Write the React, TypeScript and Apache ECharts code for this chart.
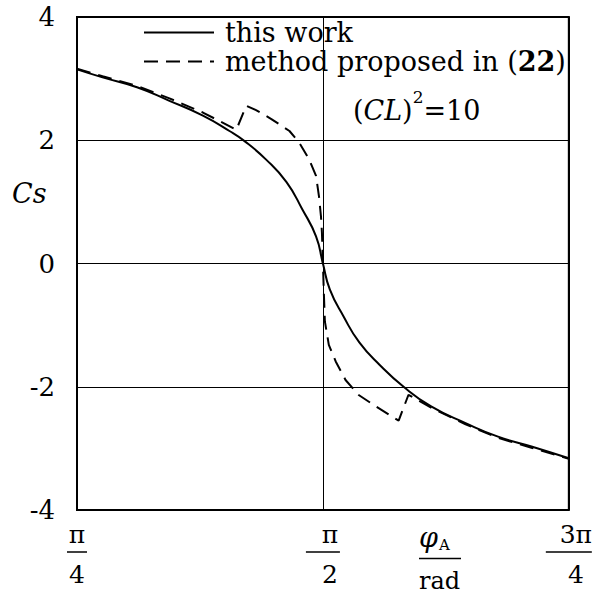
import React, { useEffect, useRef } from "react";
import * as echarts from "echarts";

// x values are φ_A / π  (π/4 .. 3π/4  ->  0.25 .. 0.75)
const phiThisWork = [0.25, 0.276, 0.311, 0.344, 0.378, 0.405, 0.42, 0.442, 0.463, 0.479, 0.493, 0.5, 0.507, 0.521, 0.537, 0.558, 0.582, 0.61, 0.645, 0.678, 0.712, 0.75];
const csThisWork = [3.15, 3.02, 2.86, 2.64, 2.4, 2.15, 1.99, 1.69, 1.32, 0.88, 0.44, 0.0, -0.42, -0.86, -1.28, -1.65, -2.0, -2.32, -2.59, -2.81, -2.97, -3.16];

const phiMethod22 = [0.25, 0.276, 0.311, 0.344, 0.378, 0.412, 0.422, 0.432, 0.448, 0.466, 0.476, 0.486, 0.493, 0.496, 0.498, 0.499, 0.5, 0.501, 0.502, 0.506, 0.513, 0.523, 0.536, 0.554, 0.577, 0.587, 0.61, 0.645, 0.678, 0.712, 0.75];
const csMethod22 = [3.16, 3.04, 2.88, 2.68, 2.45, 2.17, 2.56, 2.49, 2.34, 2.15, 1.96, 1.69, 1.42, 1.09, 0.77, 0.5, 0.0, -0.5, -0.94, -1.32, -1.59, -1.89, -2.13, -2.32, -2.55, -2.13, -2.34, -2.61, -2.83, -2.99, -3.17];

const xTickValues = [0.25, 0.5, 0.75];
const xTickNumerators = ["π", "π", "3π"];
const xTickDenominators = ["4", "2", "4"];
const yTicks = [-4, -2, 0, 2, 4];

const seriesNames = ["this work", "method proposed in (22)"];

const SERIF = "DejaVu Serif";

export default function App() {
  const ref = useRef<HTMLDivElement>(null);
  useEffect(() => {
    document.body.style.margin = "0";
    if (!ref.current) return;
    const chart = echarts.init(ref.current, undefined, { renderer: "svg" });
    const pairs = (xs: number[], ys: number[]) => xs.map((x, i) => [x, ys[i]]);
    const option: any = {
      animation: false,
      backgroundColor: "#fff",
      grid: {
        left: 77,
        right: 24,
        top: 17,
        bottom: 91,
        show: true,
        borderColor: "#000",
        borderWidth: 2,
        backgroundColor: "transparent",
      },
      xAxis: {
        type: "value",
        min: 0.25,
        max: 0.75,
        interval: 0.25,
        axisLine: { show: false },
        axisTick: { show: false },
        splitLine: { show: true, lineStyle: { color: "#000", width: 1 } },
        axisLabel: {
          show: true,
          margin: 11,
          showMinLabel: true,
          showMaxLabel: true,
          hideOverlap: false,
          color: "#000",
          formatter: (v: number) => {
            const i = xTickValues.findIndex((t) => Math.abs(t - v) < 1e-6);
            if (i < 0) return "";
            const suf = i === 0 ? "" : "s";
            const bar = i === 2 ? "barw" : "bar";
            return `{n${suf}|${xTickNumerators[i]}}\n{${bar}${suf}|}\n{d${suf}|${xTickDenominators[i]}}`;
          },
          rich: {
            n: { fontFamily: SERIF, fontSize: 25, lineHeight: 26, color: "#000" },
            d: { fontFamily: SERIF, fontSize: 25, lineHeight: 34, color: "#000" },
            bar: { width: 20, height: 1.5, backgroundColor: "#000", lineHeight: 10 },
            ns: { fontFamily: SERIF, fontSize: 25, lineHeight: 26, color: "#000", padding: [0, 0, 0, 14] },
            ds: { fontFamily: SERIF, fontSize: 25, lineHeight: 34, color: "#000", padding: [0, 0, 0, 14] },
            bars: { width: 20, height: 1.5, backgroundColor: "#000", lineHeight: 10, padding: [0, 0, 0, 14] },
            barws: { width: 32, height: 1.5, backgroundColor: "#000", lineHeight: 10, padding: [0, 0, 0, 14] },
          },
        },
      },
      yAxis: {
        type: "value",
        min: yTicks[0],
        max: yTicks[yTicks.length - 1],
        interval: 2,
        axisLine: { show: false },
        axisTick: { show: false },
        splitLine: { show: true, lineStyle: { color: "#000", width: 1 } },
        axisLabel: {
          margin: 22,
          color: "#000",
          fontFamily: SERIF,
          fontSize: 26,
          showMinLabel: true,
          showMaxLabel: true,
        },
      },
      legend: {
        show: true,
        orient: "vertical",
        left: 143,
        top: 18,
        itemWidth: 70,
        itemHeight: 14,
        itemGap: 0,
        padding: 0,
        data: seriesNames,
        itemStyle: { opacity: 0 },
        lineStyle: { width: 2 },
        formatter: (name: string) =>
          name === seriesNames[1] ? "{t|method proposed in (}{b|22}{t|)}" : `{t|${name}}`,
        textStyle: {
          color: "#000",
          fontFamily: SERIF,
          fontSize: 27,
          lineHeight: 29,
          padding: [0, 0, 0, 6],
          rich: {
            t: { fontFamily: SERIF, fontSize: 27, lineHeight: 29, color: "#000" },
            b: { fontFamily: SERIF, fontSize: 27, lineHeight: 29, fontWeight: "bold", color: "#000" },
          },
        },
      },
      series: [
        {
          name: seriesNames[0],
          type: "line",
          data: pairs(phiThisWork, csThisWork),
          symbol: "none",
          smooth: 0.5,
          lineStyle: { color: "#000", width: 2, type: "solid" },
          itemStyle: { color: "#000" },
        },
        {
          name: seriesNames[1],
          type: "line",
          data: pairs(phiMethod22, csMethod22),
          symbol: "none",
          smooth: false,
          lineStyle: { color: "#000", width: 2, type: [14, 8] },
          itemStyle: { color: "#000" },
        },
      ],
      graphic: [
        {
          type: "text",
          left: 12,
          top: 180,
          style: {
            text: "Cs",
            fontFamily: SERIF,
            fontStyle: "italic",
            fontSize: 27,
            fill: "#000",
          },
        },
        {
          type: "text",
          left: 353,
          top: 88,
          style: {
            text: "{n|(}{i|CL}{n|)}{s|2}{n|=10}",
            rich: {
              n: { fontFamily: SERIF, fontSize: 27, lineHeight: 36, fill: "#000", verticalAlign: "bottom" },
              i: { fontFamily: SERIF, fontSize: 27, fontStyle: "italic", lineHeight: 36, fill: "#000", verticalAlign: "bottom" },
              s: { fontFamily: SERIF, fontSize: 17, lineHeight: 20, fill: "#000", verticalAlign: "top" },
            },
          },
        },
        {
          type: "text",
          left: 419,
          top: 524,
          style: {
            text: "{v|φ}{sub|A}\n{bar|}\n{r|rad}",
            align: "center",
            rich: {
              v: { fontFamily: SERIF, fontSize: 27, fontStyle: "italic", lineHeight: 30, fill: "#000", verticalAlign: "middle" },
              sub: { fontFamily: SERIF, fontSize: 15, lineHeight: 14, fill: "#000", verticalAlign: "bottom", padding: [0, 0, 0, 1] },
              bar: { width: 42, height: 1.5, backgroundColor: "#000", lineHeight: 12 },
              r: { fontFamily: SERIF, fontSize: 24, lineHeight: 32, fill: "#000" },
            },
          },
        },
      ],
    };
    chart.setOption(option);
    return () => chart.dispose();
  }, []);
  return <div ref={ref} style={{ width: 595, height: 601 }} />;
}
